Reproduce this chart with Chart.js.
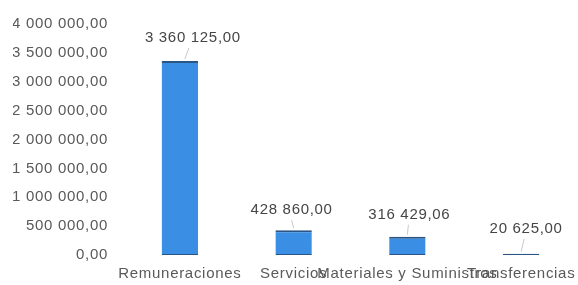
<!DOCTYPE html>
<html>
<head>
<meta charset="utf-8">
<script src="https://cdn.jsdelivr.net/npm/chart.js@4.4.1/dist/chart.umd.min.js"></script>
<style>
  html, body { margin: 0; padding: 0; background: #ffffff; }
  #wrap { width: 578px; height: 285px; }
</style>
</head>
<body>
<div id="wrap"><canvas id="c" width="578" height="285"></canvas></div>
<script>
const categories = ["Remuneraciones", "Servicios", "Materiales y Suministros", "Transferencias"];
const values = [3360125.00, 428860.00, 316429.06, 20625.00];
const yTicks = [0, 500000, 1000000, 1500000, 2000000, 2500000, 3000000, 3500000, 4000000];

function fmt(v) {
  const parts = v.toFixed(2).split(".");
  const intPart = parts[0].replace(/\B(?=(\d{3})+(?!\d))/g, " ");
  return intPart + "," + parts[1];
}

const FONT = "'Liberation Sans', Arial, sans-serif";
const SPACING = "0.7px";

const spacingPlugin = {
  id: "spacing",
  beforeUpdate(chart) { chart.ctx.letterSpacing = SPACING; },
  beforeLayout(chart) { chart.ctx.letterSpacing = SPACING; },
  beforeDraw(chart) { chart.ctx.letterSpacing = SPACING; }
};

const labelPlugin = {
  id: "valueLabels",
  afterDatasetsDraw(chart, args, opts) {
    const ctx = chart.ctx;
    const meta = chart.getDatasetMeta(0);
    ctx.save();
    ctx.letterSpacing = SPACING;
    ctx.font = "15px " + FONT;
    ctx.textAlign = "center";
    ctx.textBaseline = "middle";
    meta.data.forEach((bar, i) => {
      const off = opts.offsets[i];
      const lx = bar.x + off[0];
      const ly = bar.y + off[1];
      ctx.strokeStyle = "#c8c8c8";
      ctx.lineWidth = 1;
      ctx.beginPath();
      ctx.moveTo(bar.x + off[2], bar.y - 2);
      ctx.lineTo(lx + off[3], ly + 10);
      ctx.stroke();
      ctx.fillStyle = "#454545";
      ctx.fillText(fmt(values[i]), lx, ly);
    });
    ctx.restore();
  }
};

new Chart(document.getElementById("c"), {
  type: "bar",
  data: {
    labels: categories,
    datasets: [{
      data: values,
      backgroundColor: "#3a8ee4",
      borderColor: "#2b5585",
      borderWidth: { top: 2, bottom: 1, left: 0, right: 0 },
      borderSkipped: false,
      categoryPercentage: 0.32,
      barPercentage: 1.0
    }]
  },
  options: {
    responsive: false,
    animation: false,
    devicePixelRatio: 1,
    layout: { padding: { top: 7, left: 13, right: 0, bottom: 2 } },
    plugins: {
      legend: { display: false },
      tooltip: { enabled: false },
      valueLabels: { offsets: [[13, -23, 5, -4], [-2, -20, 0, 0], [2, -22, 0, -1], [5, -25, 0, -2]] }
    },
    scales: {
      x: {
        grid: { display: false, drawTicks: false },
        border: { display: false },
        afterFit(axis) { axis.height = 28; axis.paddingLeft = 0; axis.paddingRight = 0; },
        ticks: {
          autoSkip: false, maxRotation: 0, minRotation: 0, padding: 10,
          color: "#595959", font: { family: FONT, size: 15 }
        }
      },
      y: {
        min: 0, max: 4000000,
        afterBuildTicks(axis) { axis.ticks = yTicks.map(v => ({ value: v })); },
        afterFit(axis) { axis.width = 110; },
        grid: { display: false, drawTicks: false },
        border: { display: false },
        ticks: {
          padding: 15, color: "#595959", font: { family: FONT, size: 15 },
          callback: (v) => fmt(v)
        }
      }
    }
  },
  plugins: [spacingPlugin, labelPlugin]
});
</script>
</body>
</html>
